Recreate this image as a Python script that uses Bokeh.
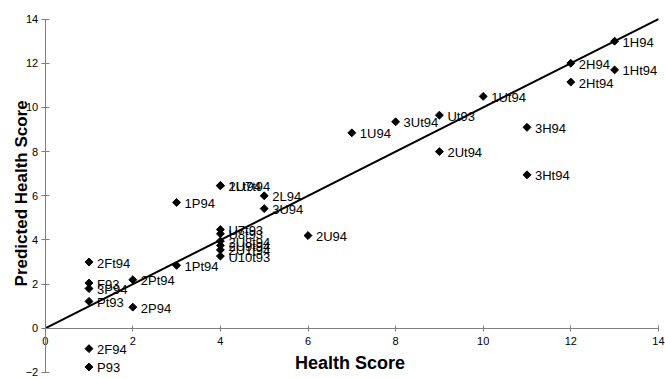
import math
from bokeh.plotting import figure
from bokeh.models import Range1d, FixedTicker, Label, ColumnDataSource
from bokeh.core.properties import value
from bokeh.embed import file_html
from bokeh.resources import INLINE

labels = ["1H94", "2H94", "1Ht94", "2Ht94", "1Ut94", "Ut93", "3Ut94", "3H94",
          "1U94", "2Ut94", "3Ht94", "1Lt94", "2U7t94", "2L94", "1P94", "3U94",
          "U7t93", "U8t93", "2U94", "2U8t94", "2U9t94", "2U1t94", "U10t93",
          "2Ft94", "1Pt94", "2Pt94", "F93", "3P94", "Pt93", "2P94", "2F94", "P93"]
health = [13, 12, 13, 12, 10, 9, 8, 11,
          7, 9, 11, 4, 4, 5, 3, 5,
          4, 4, 6, 4, 4, 4, 4,
          1, 3, 2, 1, 1, 1, 2, 1, 1]
predicted = [13.0, 12.0, 11.7, 11.15, 10.5, 9.65, 9.35, 9.1,
             8.85, 8.0, 6.95, 6.47, 6.45, 6.0, 5.7, 5.42,
             4.47, 4.28, 4.2, 3.95, 3.75, 3.55, 3.27,
             3.0, 2.85, 2.2, 2.05, 1.8, 1.22, 0.96, -0.92, -1.75]
fit_x = [0, 14]
fit_y = [0, 14]
x_ticks = [0, 2, 4, 6, 8, 10, 12, 14]
y_ticks = [-2, 0, 2, 4, 6, 8, 10, 12, 14]

FONT = "Liberation Sans"

p = figure(width=665, height=379, output_backend="svg", toolbar_location=None,
           x_range=Range1d(-1.0205, 14.162), y_range=Range1d(-2.317, 14.842),
           min_border=0, min_border_left=0, min_border_right=0,
           min_border_top=0, min_border_bottom=0)
p.outline_line_color = None
p.xgrid.visible = False
p.ygrid.visible = False
p.background_fill_color = "white"
p.border_fill_color = "white"

xa = p.xaxis[0]
xa.fixed_location = 0
xa.bounds = (0, 14)
xa.ticker = FixedTicker(ticks=x_ticks)
xa.major_tick_in = 3
xa.major_tick_out = 3
xa.major_label_standoff = 6
ya = p.yaxis[0]
ya.fixed_location = 0
ya.bounds = (-2, 14)
ya.ticker = FixedTicker(ticks=y_ticks)
ya.major_tick_in = 4
ya.major_tick_out = 4
ya.major_label_standoff = 3
for ax in (xa, ya):
    ax.axis_line_color = "#7f7f7f"
    ax.axis_line_width = 1
    ax.major_tick_line_color = "#7f7f7f"
    ax.minor_tick_line_color = None
    ax.major_label_text_font = FONT
    ax.major_label_text_font_size = "11px"
    ax.major_label_text_color = "black"

p.line(fit_x, fit_y, line_width=2, line_color="black")

src = ColumnDataSource(dict(x=health, y=predicted, label=labels))
p.scatter("x", "y", source=src, marker="square", angle=math.pi / 4, size=5.6,
          fill_color="black", line_color="black")
p.text("x", "y", text="label", source=src, x_offset=8, y_offset=1,
       text_font=value(FONT), text_font_size="13px", text_baseline="middle",
       text_align="left", text_color="black")

p.add_layout(Label(x=6.96, y=-1.59, text="Health Score", text_font=FONT,
                   text_font_size="18px", text_font_style="bold",
                   text_color="black",
                   text_align="center", text_baseline="middle"))
p.add_layout(Label(x=-0.541, y=6.11, text="Predicted Health Score", text_font=FONT,
                   text_font_size="17px", text_font_style="bold",
                   text_color="black",
                   angle=math.pi / 2, text_align="center", text_baseline="middle"))

open("out.html", "w").write(file_html(p, INLINE))
